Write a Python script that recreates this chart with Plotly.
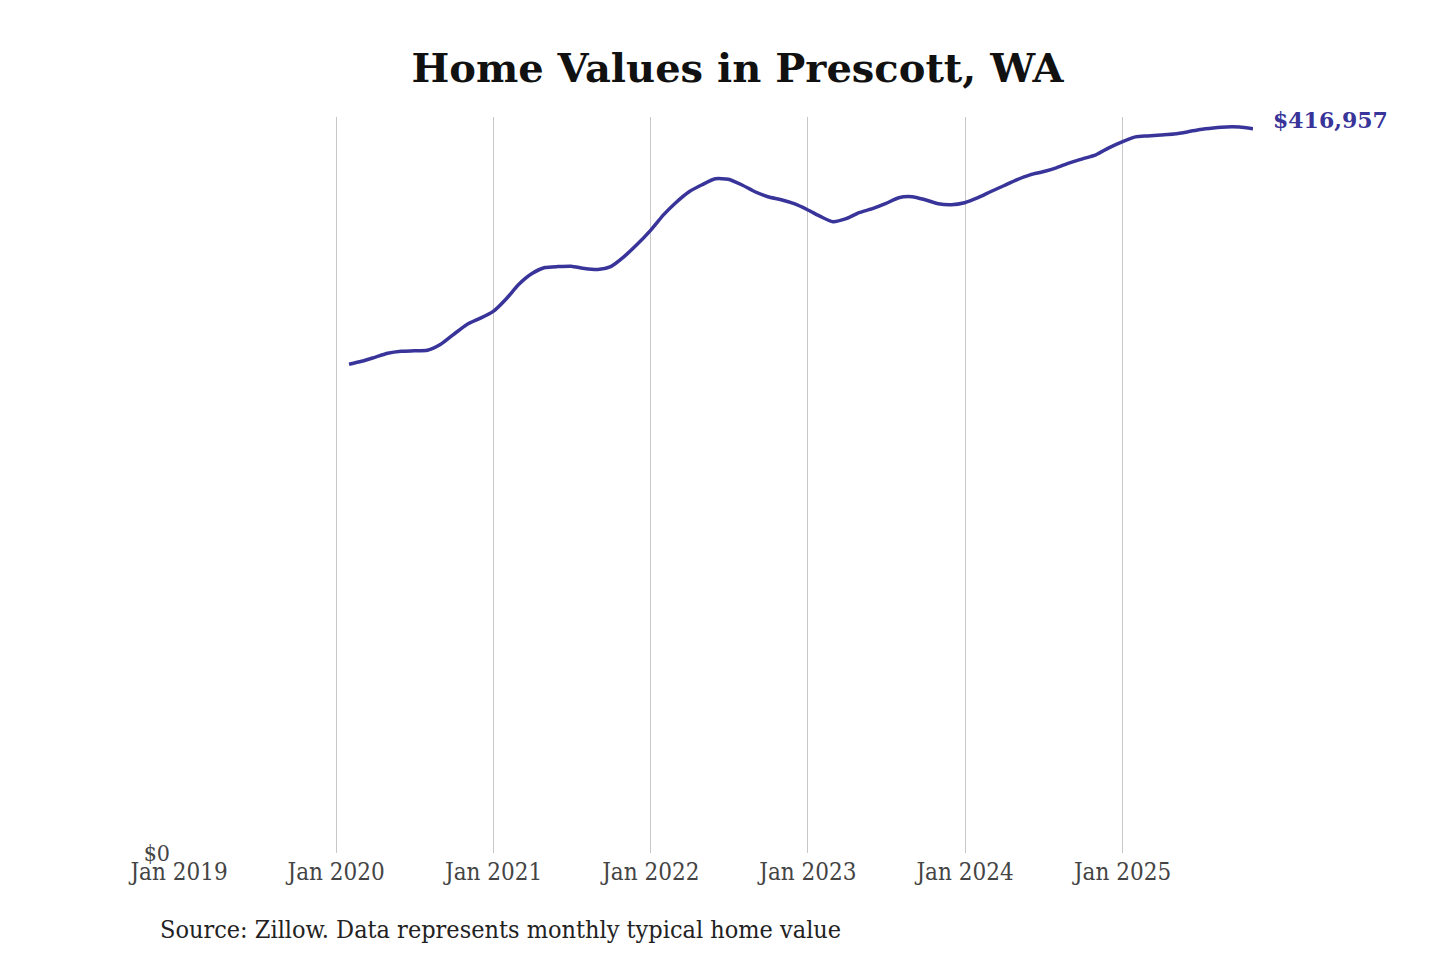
import pandas as pd
import plotly.graph_objects as go

# monthly typical home value (Zillow), month-end dates
dates = pd.date_range("2020-01-31", "2025-10-31", freq="ME")
values = [
    281400, 283130, 285430, 287720, 288870, 289160, 289450, 292890, 298640, 304380, 307830, 311850,
    319310, 327350, 333670, 337110, 337690, 337900, 336540, 335970, 337690, 343430, 350320, 358360,
    367550, 374440, 380760, 384780, 388230, 387940, 384780, 380760, 377890, 376170, 373870, 370420,
    366400, 363530, 365260, 368700, 371000, 373870, 377320, 377890, 376170, 373870, 373300, 374440,
    377320, 380760, 384210, 387650, 390520, 392250, 394540, 397420, 399710, 402010, 406030, 409480,
    412350, 412920, 413500, 414070, 415220, 416660, 417520, 418090, 418000, 416957,
]
tick_dates = ["2019-01-01", "2020-01-01", "2021-01-01", "2022-01-01",
              "2023-01-01", "2024-01-01", "2025-01-01"]
tick_text = ["Jan 2019", "Jan 2020", "Jan 2021", "Jan 2022",
             "Jan 2023", "Jan 2024", "Jan 2025"]

line_color = "#38349a"
serif = "DejaVu Serif"
serif_cond = "DejaVu Serif Condensed"

fig = go.Figure()
fig.add_trace(go.Scatter(
    x=dates, y=values, mode="lines",
    line=dict(color=line_color, width=3.5, shape="spline", smoothing=0.6),
    hoverinfo="skip", showlegend=False))

# end-of-line value label
fig.add_annotation(
    x=dates[-1], y=values[-1], text="<b>${:,}</b>".format(values[-1]),
    showarrow=False, xanchor="left", yanchor="middle", xshift=18, yshift=9,
    font=dict(family=serif, size=22, color=line_color))

fig.add_annotation(
    x=0, xref="paper", y=-0.127, yref="paper", xanchor="left", xshift=-21,
    text="Source: Zillow. Data represents monthly typical home value",
    showarrow=False, font=dict(family=serif_cond, size=25, color="#222222"))

fig.update_layout(
    width=1440, height=960,
    margin=dict(l=171, r=195, t=109, b=115),
    paper_bgcolor="white", plot_bgcolor="white",
    title=dict(text="<b>Home Values in Prescott, WA</b>", x=0.5066, xanchor="center",
               y=0.9375, yanchor="middle",
               font=dict(family=serif, size=40, color="#111111")),
    xaxis=dict(range=["2019-01-01", "2025-10-31"], tickvals=tick_dates, ticktext=tick_text,
               showgrid=True, gridcolor="#c8c8c8", gridwidth=1, zeroline=False,
               showline=False, ticks="", automargin=False, ticklabelstandoff=2,
               tickfont=dict(family=serif_cond, size=24, color="#444444")),
    yaxis=dict(range=[0, 423800], tickvals=[0], ticktext=["$0"], showgrid=False,
               zeroline=False, showline=False, ticks="", automargin=False,
               ticklabelstandoff=8,
               tickfont=dict(family=serif_cond, size=23, color="#444444")),
)

fig.write_html("out.html")
